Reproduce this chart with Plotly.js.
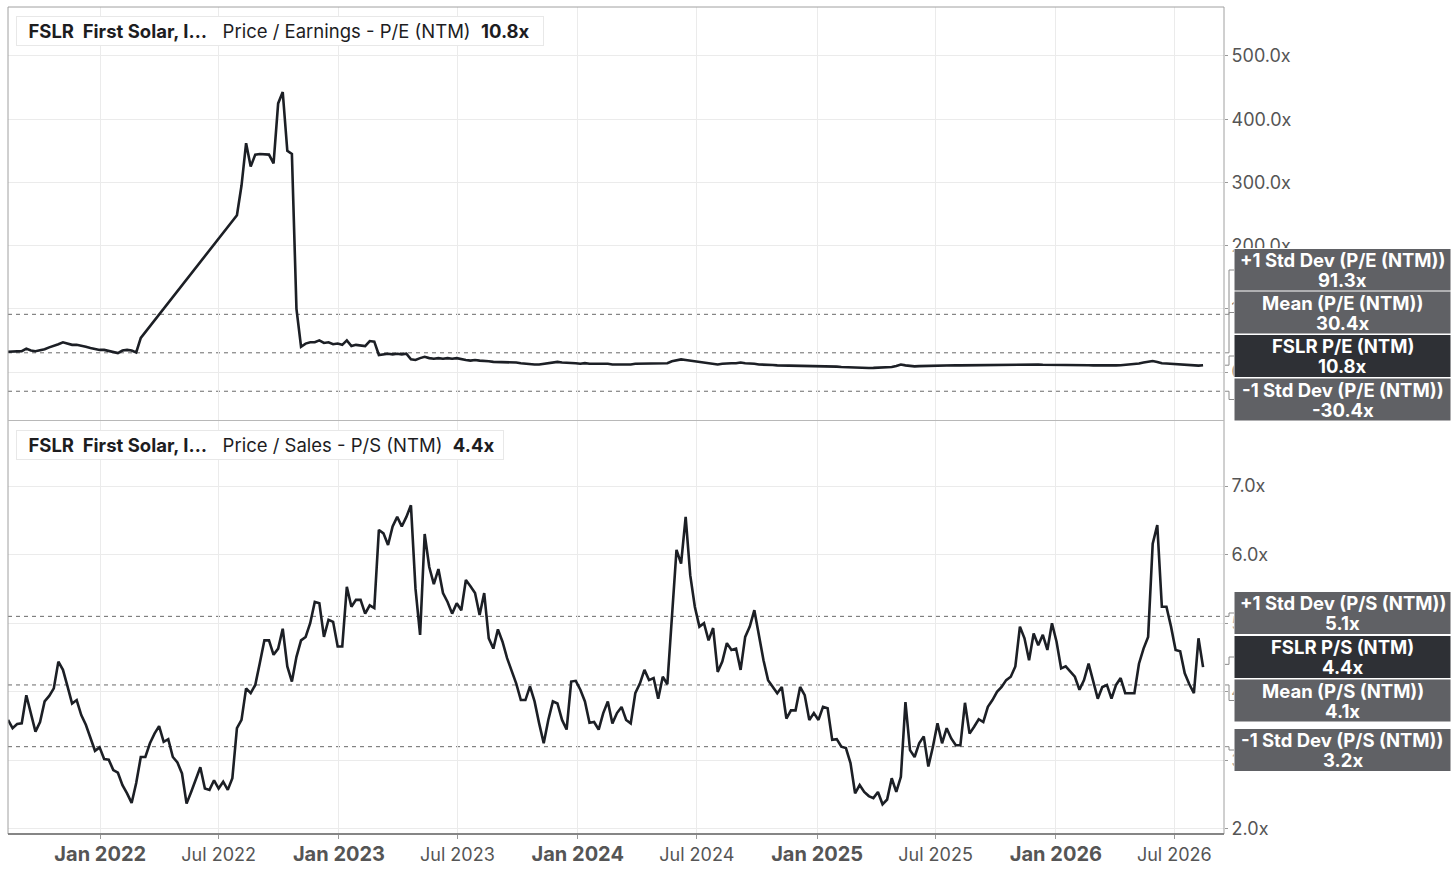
<!DOCTYPE html>
<html>
<head>
<meta charset="utf-8">
<script src="https://cdn.plot.ly/plotly-3.0.1.min.js"></script>
<style>
  html, body { margin: 0; padding: 0; background: #fff; }
  #plot { width: 1456px; height: 874px; }
</style>
</head>
<body>
<div id="plot"></div>
<script>
// weekly closes, first week of the window
const startDate = '2021-08-13';

// P/E (NTM), weekly; null = no estimate available (gap bridged by the line)
const peValues = [
  32, 32, 32, 33, 37, 34, 33, 34, 36, 39,
  41, 44, 47, 45, 43, 43, 42, 40, 38, 36,
  35, 35, 33, 31, 30, 34, 35, 34, 31, 54,
  null, null, null, null, null, null, null, null, null, null,
  null, null, null, null, null, null, null, null, null, null,
  248, 295, 362, 325, 344, 345, 344, 344, 330, 425,
  443, 350, 345, 100, 40, 45, 47, 47, 50, 46,
  47, 44, 45, 43, 50, 41, 43, 42, 41, 49,
  48, 27, 28, 29, 28, 29, 28, 29, 20, 19,
  22, 24, 22, 21, 22, 21, 22, 21, 22, 20,
  19, 18, 19, 18, 18, 17, 16, 16, 15, 16,
  15, 15, 14, 13, 12, 12, 12, 13, 14, 15,
  16, 15, 15, 14, 14, 13, 14, 13, 13, 14,
  13, 13, 12, 12, 11, 11, 12, 13, 13, 13,
  13, 14, 13, 13, 14, 17, 19, 20, 19, 18,
  16, 15, 14, 13, 12, 12, 13, 14, 14, 14,
  15, 14, 14, 13, 12, 12, 11, 11, 10.6, 10.5,
  10.4, 10.2, 10, 9.8, 9.7, 9.6, 9.5, 9.3, 9.1, 9.0,
  8.9, 8.5, 8, 7.6, 7.2, 6.8, 6.4, 6.3, 6.4, 6.5,
  6.7, 7.0, 7.4, 7.9, 9.5, 11.8, 10.5, 9.6, 9.0, 9.3,
  9.6, 9.8, 10, 10.2, 10.5, 10.6, 10.4, 10.8, 10.6, 10.7,
  10.9, 11, 11.2, 11.3, 11.5, 11.4, 11.6, 11.8, 11.5, 11.7,
  12, 11.6, 11.8, 11.5, 11.7, 11.9, 11.6, 11.4, 11.2, 11,
  10.8, 10.6, 10.5, 10.6, 10.4, 10.5, 10.7, 10.6, 10.4, 10.5,
  10.6, 10.4, 10.5, 10.8, 11.2, 11.8, 12.5, 13.5, 15, 16.5,
  17.5, 16, 14, 13.5, 13, 12.5, 12, 11.5, 11.2, 10.6,
  10.2, 10.8
];

// P/S (NTM), weekly
const psValues = [
  3.59, 3.47, 3.53, 3.54, 3.95, 3.69, 3.42, 3.56, 3.86, 3.94,
  4.05, 4.44, 4.32, 4.08, 3.83, 3.88, 3.66, 3.52, 3.32, 3.14,
  3.19, 3.02, 3.01, 2.86, 2.82, 2.64, 2.52, 2.38, 2.67, 3.05,
  3.05, 3.25, 3.39, 3.50, 3.27, 3.31, 3.05, 2.97, 2.81, 2.37,
  2.54, 2.71, 2.90, 2.59, 2.57, 2.71, 2.59, 2.69, 2.57, 2.74,
  3.47, 3.59, 4.05, 3.98, 4.10, 4.42, 4.75, 4.75, 4.54, 4.63,
  4.92, 4.37, 4.15, 4.51, 4.75, 4.80, 5.00, 5.31, 5.29, 4.80,
  5.05, 5.02, 4.66, 4.66, 5.53, 5.24, 5.34, 5.34, 5.14, 5.26,
  5.22, 6.36, 6.31, 6.14, 6.41, 6.55, 6.41, 6.55, 6.72, 5.50,
  4.83, 6.30, 5.82, 5.57, 5.79, 5.44, 5.31, 5.14, 5.29, 5.19,
  5.63, 5.54, 5.44, 5.12, 5.44, 4.78, 4.63, 4.91, 4.73, 4.49,
  4.29, 4.12, 3.88, 3.88, 4.08, 3.86, 3.54, 3.25, 3.59, 3.86,
  3.83, 3.59, 3.45, 4.15, 4.16, 4.03, 3.86, 3.55, 3.56, 3.45,
  3.69, 3.86, 3.54, 3.69, 3.78, 3.59, 3.54, 3.98, 4.12, 4.32,
  4.17, 4.20, 3.90, 4.22, 4.11, 5.14, 6.07, 5.87, 6.55, 5.70,
  5.24, 4.95, 5.00, 4.75, 4.93, 4.29, 4.44, 4.71, 4.61, 4.63,
  4.32, 4.80, 4.95, 5.19, 4.83, 4.46, 4.17, 4.07, 3.98, 4.07,
  3.61, 3.73, 3.73, 4.07, 3.95, 3.59, 3.69, 3.59, 3.78, 3.76,
  3.30, 3.31, 3.20, 3.18, 2.96, 2.52, 2.64, 2.54, 2.48, 2.45,
  2.54, 2.36, 2.43, 2.74, 2.54, 2.76, 3.85, 3.15, 3.05, 3.25,
  3.35, 2.91, 3.20, 3.54, 3.25, 3.47, 3.32, 3.22, 3.22, 3.84,
  3.39, 3.49, 3.60, 3.56, 3.78, 3.88, 4.00, 4.07, 4.17, 4.22,
  4.37, 4.95, 4.78, 4.46, 4.85, 4.68, 4.83, 4.61, 5.00, 4.73,
  4.34, 4.37, 4.29, 4.22, 4.03, 4.17, 4.41, 4.17, 3.90, 4.07,
  4.10, 3.90, 4.10, 4.20, 3.98, 3.98, 3.98, 4.41, 4.63, 4.80,
  6.16, 6.43, 5.24, 5.24, 4.95, 4.61, 4.59, 4.27, 4.11, 3.98,
  4.78, 4.36
];

// statistics shown in the right-hand boxes
const peStatNames  = ['+1 Std Dev (P/E (NTM))', 'Mean (P/E (NTM))', 'FSLR P/E (NTM)', '-1 Std Dev (P/E (NTM))'];
const peStatValues = [91.3, 30.4, 10.8, -30.4];
const psStatNames  = ['+1 Std Dev (P/S (NTM))', 'FSLR P/S (NTM)', 'Mean (P/S (NTM))', '-1 Std Dev (P/S (NTM))'];
const psStatValues = [5.1, 4.4, 4.1, 3.2];

const xTickDates = ['2022-01-01', '2022-07-01', '2023-01-01', '2023-07-01', '2024-01-01',
                    '2024-07-01', '2025-01-01', '2025-07-01', '2026-01-01', '2026-07-01'];
const xTickText  = ['Jan 2022', 'Jul 2022', 'Jan 2023', 'Jul 2023', 'Jan 2024',
                    'Jul 2024', 'Jan 2025', 'Jul 2025', 'Jan 2026', 'Jul 2026'];

// ---- layout helpers ----
const W = 1456, H = 874;
const M = {l: 8, r: 232, t: 7, b: 40};
const plotW = W - M.l - M.r, plotH = H - M.t - M.b;
const FONT = 'Inter, "Open Sans", Roboto, sans-serif';
const LINE = '#1c1f25';

function pxX(px) { return (px - M.l) / plotW; }
function pxY(py) { return (H - M.b - py) / plotH; }
function valY(v, range, dom) {
  return dom[0] + (v - range[0]) / (range[1] - range[0]) * (dom[1] - dom[0]);
}

const topDom = [pxY(420), 1];
const botDom = [0, pxY(421)];
const topRange = [-75.9, 577.5];
const botRange = [1.927, 7.948];

// weekly dates
const dates = [];
{
  const d0 = new Date(startDate + 'T00:00:00Z');
  for (let i = 0; i < psValues.length; i++) {
    const d = new Date(d0.getTime() + i * 7 * 86400000);
    dates.push(d.toISOString().slice(0, 10));
  }
}

const traces = [
  {
    x: dates, y: peValues, xaxis: 'x2', yaxis: 'y2',
    type: 'scatter', mode: 'lines', connectgaps: true,
    line: {color: LINE, width: 2.6}, hoverinfo: 'skip'
  },
  {
    x: dates, y: psValues, xaxis: 'x', yaxis: 'y',
    type: 'scatter', mode: 'lines',
    line: {color: LINE, width: 2.6}, hoverinfo: 'skip'
  }
];

const shapes = [];
const annotations = [];

// dashed band lines (std dev / mean), not the current value
function bandLines(values, names, yref) {
  values.forEach((v, i) => {
    if (names[i].startsWith('FSLR')) return;
    shapes.push({
      type: 'line', xref: 'paper', yref: yref, x0: 0, x1: 1, y0: v, y1: v,
      line: {color: '#6a6a6a', width: 1, dash: '4px,4px'}, layer: 'between'
    });
  });
}
bandLines(peStatValues, peStatNames, 'y2');
bandLines(psStatValues, psStatNames, 'y');

// right-hand value boxes with small elbow connectors
const topBoxCenters = [270, 312.5, 356, 399.5];
const botBoxCenters = [613, 657, 700.5, 750];
function statBoxes(names, values, centers, range, dom) {
  names.forEach((name, i) => {
    const cur = name.startsWith('FSLR');
    const c = centers[i];
    const yBox = pxY(c);
    const yVal = valY(values[i], range, dom);
    shapes.push({
      type: 'rect', xref: 'paper', yref: 'paper', layer: 'above',
      x0: pxX(1234), x1: pxX(1451), y0: pxY(c + 21.5), y1: pxY(c - 21.5),
      fillcolor: cur ? '#2e3035' : '#606165',
      line: {color: '#ffffff', width: 1}
    });
    [name, values[i].toFixed(1) + 'x'].forEach((t, k) => {
      annotations.push({
        xref: 'paper', yref: 'paper', x: pxX(1342.5), y: pxY(c - 10 + 20 * k),
        xanchor: 'center', yanchor: 'middle', showarrow: false,
        text: '<b>' + t + '</b>',
        font: {family: FONT, size: 18.5, color: '#ffffff'}
      });
    });
    shapes.push({
      type: 'path', xref: 'paper', yref: 'paper', layer: 'above',
      path: 'M ' + pxX(1225) + ',' + yVal + ' L ' + pxX(1229) + ',' + yVal +
            ' L ' + pxX(1229) + ',' + yBox + ' L ' + pxX(1234) + ',' + yBox,
      line: {color: '#8a8a8a', width: 1}
    });
  });
}
statBoxes(peStatNames, peStatValues, topBoxCenters, topRange, topDom);
statBoxes(psStatNames, psStatValues, botBoxCenters, botRange, botDom);

// frame, panel divider, bottom axis line
shapes.push({type: 'rect', xref: 'paper', yref: 'paper', x0: 0, x1: 1, y0: 0, y1: 1,
             line: {color: '#a0a0a0', width: 1}, layer: 'above'});
shapes.push({type: 'line', xref: 'paper', yref: 'paper', x0: 0, x1: 1, y0: pxY(420.5), y1: pxY(420.5),
             line: {color: '#b8b8b8', width: 1}, layer: 'above'});
shapes.push({type: 'line', xref: 'paper', yref: 'paper', x0: 0, x1: 1, y0: 0, y1: 0,
             line: {color: '#6e6e6e', width: 1.5}, layer: 'above'});

// panel header chips
function header(py, text, widthPx) {
  annotations.push({
    xref: 'paper', yref: 'paper', x: pxX(16), y: pxY(py),
    xanchor: 'left', yanchor: 'top', align: 'left',
    width: widthPx, height: 26, borderpad: 1,
    bgcolor: '#ffffff', bordercolor: '#e8e8e8', borderwidth: 1,
    showarrow: false, text: text,
    font: {family: FONT, size: 18.5, color: '#1d1d1f'}
  });
  shapes.push({type: 'rect', xref: 'paper', yref: 'paper', layer: 'above',
               x0: pxX(17), x1: pxX(20.5), y0: pxY(py + 28), y1: pxY(py + 1),
               fillcolor: LINE, line: {width: 0}});
}
const NB = '\u00a0';
header(16, NB + NB + '<b>FSLR' + NB + NB + 'First Solar, I…</b>' + NB + NB + NB +
       'Price / Earnings - P/E (NTM)' + NB + NB + '<b>' + peValues[peValues.length - 1].toFixed(1) + 'x</b>' + NB, 524);
header(430, NB + NB + '<b>FSLR' + NB + NB + 'First Solar, I…</b>' + NB + NB + NB +
       'Price / Sales - P/S (NTM)' + NB + NB + '<b>' + psStatValues[1].toFixed(1) + 'x</b>' + NB, 484);

const xTickLabels = xTickText.map(t => t.startsWith('Jan')
  ? '<span style="font-size:20px"><b>' + t + '</b></span>' : t);

const xRange = ['2021-08-13', '2026-09-15'];
const gridColor = '#ebebeb';
const yCommon = {
  side: 'right', showline: false, zeroline: false,
  gridcolor: gridColor, gridwidth: 1,
  ticks: 'outside', ticklen: 3, tickcolor: '#9a9a9a',
  ticksuffix: 'x', tickformat: '.1f',
  tickfont: {family: FONT, size: 18, color: '#555555'},
  fixedrange: true
};

const layout = {
  width: W, height: H,
  margin: M,
  paper_bgcolor: '#ffffff', plot_bgcolor: '#ffffff',
  showlegend: false, hovermode: false,
  xaxis: {
    type: 'date', range: xRange, anchor: 'y',
    tickvals: xTickDates, ticktext: xTickLabels,
    ticks: 'outside', ticklen: 4, tickcolor: '#9a9a9a',
    tickfont: {family: FONT, size: 18, color: '#555555'},
    showgrid: true, gridcolor: gridColor, zeroline: false, showline: false,
    fixedrange: true
  },
  xaxis2: {
    type: 'date', range: xRange, anchor: 'y2', matches: 'x',
    tickvals: xTickDates, showticklabels: false, ticks: '',
    showgrid: true, gridcolor: gridColor, zeroline: false, showline: false,
    fixedrange: true
  },
  yaxis: Object.assign({}, yCommon, {domain: botDom, range: botRange, anchor: 'x', dtick: 1, tick0: 0}),
  yaxis2: Object.assign({}, yCommon, {domain: topDom, range: topRange, anchor: 'x2', dtick: 100, tick0: 0}),
  shapes: shapes,
  annotations: annotations
};

Plotly.newPlot('plot', traces, layout, {displayModeBar: false, staticPlot: true});
</script>
</body>
</html>
